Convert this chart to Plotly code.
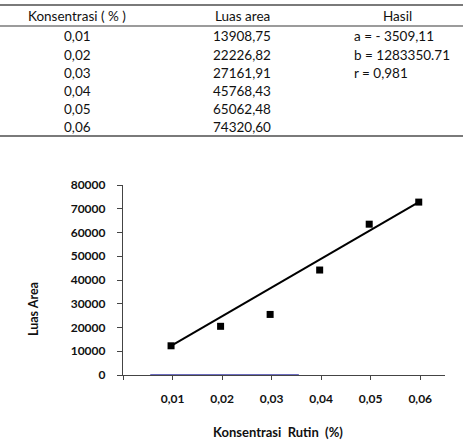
import plotly.graph_objects as go

# ---- data ----
table_header = ["Konsentrasi ( % )", "Luas area", "Hasil"]
table_konsentrasi = ["0,01", "0,02", "0,03", "0,04", "0,05", "0,06"]
table_luas = ["13908,75", "22226,82", "27161,91", "45768,43", "65062,48", "74320,60"]
table_hasil = ["a = - 3509,11", "b = 1283350.71", "r = 0,981"]

conc = [0.0097, 0.0197, 0.0297, 0.0397, 0.0497, 0.0597]
area = [12300, 20500, 25500, 44200, 63500, 72800]
trend_x = [0.0097, 0.0597]
trend_y = [12300, 72800]
blue_x = [0.0055, 0.0355]
blue_y = [0, 0]

x_tickvals = [0, 0.01, 0.02, 0.03, 0.04, 0.05, 0.06]
x_ticktext = ["", "0,01", "0,02", "0,03", "0,04", "0,05", "0,06"]
y_tickvals = [0, 10000, 20000, 30000, 40000, 50000, 60000, 70000, 80000]

W, H = 463, 445
L, R, T, B = 123, 18, 185, 70
PW, PH = W - L - R, H - T - B


def px(xp):
    return (xp - L) / PW


def py(yp):
    return (H - B - yp) / PH


fig = go.Figure()
fig.add_trace(go.Scatter(x=blue_x, y=blue_y, mode="lines",
                         line=dict(color="#3a3aa8", width=1.5),
                         hoverinfo="skip", showlegend=False, cliponaxis=False))
fig.add_trace(go.Scatter(x=trend_x, y=trend_y, mode="lines",
                         line=dict(color="black", width=2), showlegend=False))
fig.add_trace(go.Scatter(x=conc, y=area, mode="markers",
                         marker=dict(symbol="square", size=7, color="black"),
                         showlegend=False, cliponaxis=False))

FONT = "Lato"
tickf = dict(family=FONT, size=12, color="#111", weight="bold")
fig.update_layout(
    width=W, height=H,
    margin=dict(l=L, r=R, t=T, b=B),
    paper_bgcolor="white", plot_bgcolor="white",
    xaxis=dict(range=[0, 0.065], tickvals=x_tickvals, ticktext=x_ticktext,
               showgrid=False, zeroline=False, showline=True, linecolor="#444",
               linewidth=1.2, ticks="outside", ticklen=4, tickcolor="#444",
               ticklabelstandoff=8, tickfont=tickf),
    yaxis=dict(range=[0, 80000], tickvals=y_tickvals, tickformat="d",
               showgrid=False, zeroline=False, showline=True, linecolor="#444",
               linewidth=1.2, ticks="outside", ticklen=5, tickcolor="#444",
               ticklabelstandoff=9, tickfont=tickf),
)

ann = []
# axis titles
ann.append(dict(x=px(278), y=py(432), xref="paper", yref="paper", showarrow=False,
                text="Konsentrasi  Rutin  (%)", xanchor="center", yanchor="middle",
                font=dict(family=FONT, size=13, color="#111", weight="bold")))
ann.append(dict(x=px(33), y=py(309), xref="paper", yref="paper", showarrow=False,
                text="Luas Area", textangle=-90, xanchor="center", yanchor="middle",
                font=dict(family=FONT, size=12.5, color="#111", weight="bold")))

tfont = dict(family=FONT, size=13.5, color="#111")
row_y = [36, 54.5, 73, 91, 109, 127]
hdr_x = [77, 242, 397]
for t, xx in zip(table_header, hdr_x):
    ann.append(dict(x=px(xx), y=py(16), xref="paper", yref="paper", showarrow=False,
                    text=t, font=tfont, xanchor="center", yanchor="middle"))
for t, yy in zip(table_konsentrasi, row_y):
    ann.append(dict(x=px(77), y=py(yy), xref="paper", yref="paper", showarrow=False,
                    text=t, font=tfont, xanchor="center", yanchor="middle"))
for t, yy in zip(table_luas, row_y):
    ann.append(dict(x=px(242), y=py(yy), xref="paper", yref="paper", showarrow=False,
                    text=t, font=tfont, xanchor="center", yanchor="middle"))
for t, yy in zip(table_hasil, row_y):
    ann.append(dict(x=px(352), y=py(yy), xref="paper", yref="paper", showarrow=False,
                    text=t, font=tfont, xanchor="left", yanchor="middle"))
fig.update_layout(annotations=ann)

shapes = []
for yy, w in [(5, 2), (26, 1.5), (136, 2)]:
    shapes.append(dict(type="line", xref="paper", yref="paper",
                       x0=px(0), x1=px(W), y0=py(yy), y1=py(yy),
                       line=dict(color="#7a7a7a", width=w)))
fig.update_layout(shapes=shapes)

fig.write_html("out.html")
